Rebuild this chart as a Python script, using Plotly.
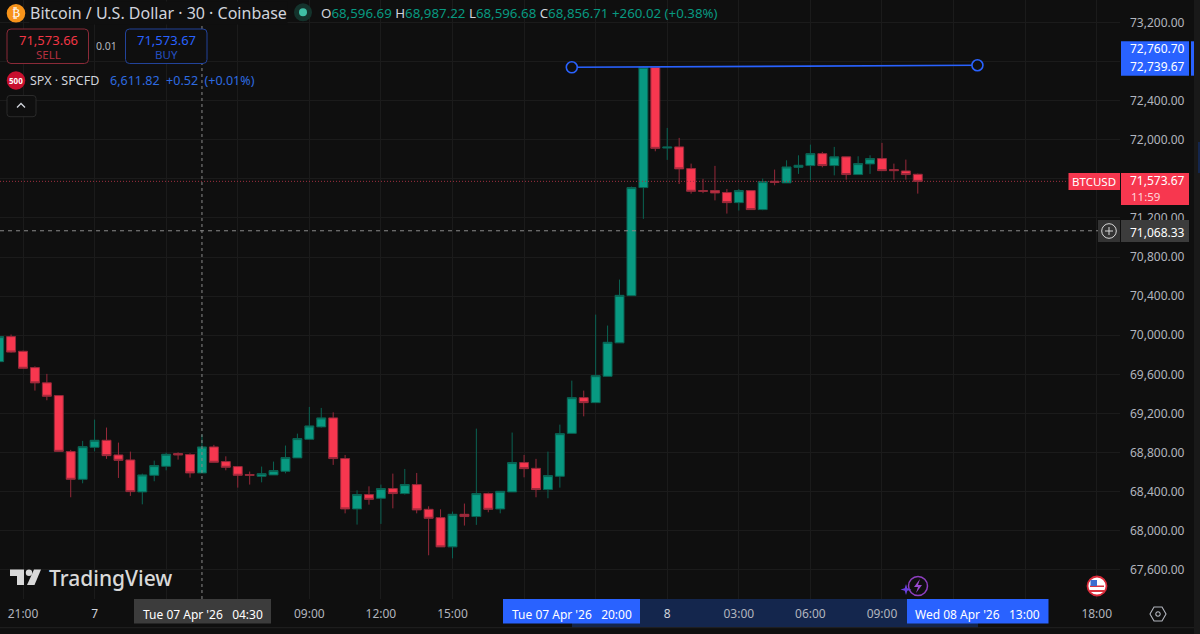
import pandas as pd
import plotly.graph_objects as go

start_time = "2026-04-06 20:00"
opens = [69730,69986,69836,69669,69513,69383,68810,68527,68854,68926,68776,68725,68398,68568,68660,68790,68780,68592,68858,68708,68657,68575,68558,68572,68609,68746,68936,69063,69155,68739,68224,68371,68333,68432,68381,68473,68220,68135,67836,68169,68146,68381,68224,68398,68698,68639,68422,68558,68997,69362,69311,69580,69922,70405,71510,72740,71914,71926,71704,71479,71479,71459,71356,71479,71285,71574,71558,71717,71735,71857,71735,71824,71643,71752,71806,71694,71680,71646]
highs = [70007,70007,69843,69682,69605,69383,68828,68920,69137,69056,68902,68810,68585,68718,68800,68803,68793,68984,68879,68762,68657,68606,68657,68708,68872,68994,69267,69257,69212,68776,68415,68455,68473,68585,68633,68592,68251,68220,68197,68279,69045,68391,68404,69005,68776,68736,68810,69086,69536,69434,70211,70099,70569,71520,72750,72750,72120,72018,71755,71599,71732,71496,71496,71479,71602,71694,71789,71840,71949,71875,71926,71824,71830,71840,71967,71755,71796,71653]
lows = [69730,69822,69662,69434,69335,68813,68343,68486,68813,68736,68541,68357,68271,68507,68619,68728,68544,68592,68701,68619,68442,68473,68496,68572,68588,68746,68936,69056,68674,68179,68064,68268,68071,68230,68371,68179,67750,67836,67719,68054,68061,68190,68179,68398,68547,68343,68333,68442,68997,69171,69311,69580,69922,70405,71190,71881,71793,71547,71448,71453,71379,71244,71275,71285,71278,71533,71558,71650,71584,71717,71635,71591,71643,71650,71683,71591,71591,71448]
closes = [69986,69828,69662,69513,69376,68813,68527,68861,68926,68769,68721,68401,68572,68667,68783,68776,68592,68858,68701,68650,68568,68568,68585,68616,68749,68943,69073,69155,68739,68224,68371,68322,68432,68381,68473,68214,68128,67836,68169,68146,68381,68220,68404,68698,68636,68422,68565,68994,69362,69311,69587,69928,70408,71510,72740,71911,71924,71701,71472,71472,71455,71356,71479,71285,71571,71564,71721,71738,71857,71735,71824,71643,71755,71806,71683,71683,71643,71573.67]

trend_times = ["2026-04-07 20:00", "2026-04-08 13:00"]
trend_prices = [72739.67, 72760.70]
last_price = 71573.67
cross_price = 71068.33
cross_time = "2026-04-07 04:30"
view_times = ["2026-04-06 20:02:10", "2026-04-08 18:58:30"]
view_prices = [67303, 73428]
tick_times = list(pd.date_range("2026-04-06 21:00", periods=16, freq="3h"))
tick_labels = ["21:00", "7", "", "", "09:00", "12:00", "15:00", "", "", "8", "03:00", "06:00", "09:00", "", "", "18:00"]
tick_labels = [f'<span style="color:#d1d4dc">{t}</span>' if t in ("7", "8") else t for t in tick_labels]
price_ticks = [67600, 68000, 68400, 68800, 69200, 69600, 70000, 70400, 70800, 71200, 71600, 72000, 72400, 72800, 73200]
price_labels = ["67,600.00", "68,000.00", "68,400.00", "68,800.00", "69,200.00", "69,600.00", "70,000.00", "70,400.00",
                "70,800.00", "71,200.00", "", "72,000.00", "72,400.00", "", "73,200.00"]

BG = "#0f0f0f"
UP = "#089981"
DOWN = "#f7374f"
BLUE = "#2962ff"
FONT = "Noto Sans"

times = pd.date_range(start_time, periods=len(opens), freq="30min")


def X(v):
    return v / 1200


def Y(v):
    return 1 - v / 634


fig = go.Figure()
fig.add_trace(go.Candlestick(
    x=times, open=opens, high=highs, low=lows, close=closes,
    increasing=dict(line=dict(color="#0a6353", width=1), fillcolor=UP),
    decreasing=dict(line=dict(color="#96293a", width=1), fillcolor=DOWN),
    whiskerwidth=0, showlegend=False))
fig.add_trace(go.Scatter(
    x=trend_times, y=trend_prices, mode="lines+markers", showlegend=False,
    line=dict(color=BLUE, width=1.6),
    marker=dict(symbol="circle", size=11, color=BG, line=dict(color=BLUE, width=1.6))))

shapes = []
annots = []


def box(x0, y0, x1, y1, fill, line=None, lw=1, layer="above"):
    shapes.append(dict(type="rect", xref="paper", yref="paper", x0=X(x0), x1=X(x1), y0=Y(y1), y1=Y(y0),
                       fillcolor=fill, line=dict(color=line or fill, width=lw if line else 0), layer=layer))


def rbox(x0, y0, x1, y1, r, fill, line=None, lw=1):
    p = (f"M {X(x0+r)} {Y(y0)} L {X(x1-r)} {Y(y0)} Q {X(x1)} {Y(y0)} {X(x1)} {Y(y0+r)} "
         f"L {X(x1)} {Y(y1-r)} Q {X(x1)} {Y(y1)} {X(x1-r)} {Y(y1)} L {X(x0+r)} {Y(y1)} "
         f"Q {X(x0)} {Y(y1)} {X(x0)} {Y(y1-r)} L {X(x0)} {Y(y0+r)} Q {X(x0)} {Y(y0)} {X(x0+r)} {Y(y0)} Z")
    shapes.append(dict(type="path", xref="paper", yref="paper", path=p, fillcolor=fill,
                       line=dict(color=line or fill, width=lw if line else 0), layer="above"))


def circ(cx, cy, r, fill, line=None, lw=1):
    shapes.append(dict(type="circle", xref="paper", yref="paper", x0=X(cx-r), x1=X(cx+r), y0=Y(cy+r), y1=Y(cy-r),
                       fillcolor=fill, line=dict(color=line or fill, width=lw if line else 0), layer="above"))


def poly(points, fill=None, line=None, lw=1, close=True):
    p = "M " + " L ".join(f"{X(a)} {Y(b)}" for a, b in points) + (" Z" if close else "")
    shapes.append(dict(type="path", xref="paper", yref="paper", path=p,
                       fillcolor=fill or "rgba(0,0,0,0)", line=dict(color=line or "rgba(0,0,0,0)", width=lw if line else 0),
                       layer="above"))


def text(x, y, s, size=12, color="#d1d4dc", anchor="center", bg=None, family=FONT, weight=None):
    f = dict(family=family, size=size, color=color)
    if weight:
        f["weight"] = weight
    d = dict(xref="paper", yref="paper", x=X(x), y=Y(y), text=s, showarrow=False, xanchor=anchor, yanchor="middle",
             font=f, borderpad=0)
    if bg:
        d["bgcolor"] = bg
    annots.append(d)


# crosshair and last price lines
shapes.append(dict(type="line", xref="x", yref="paper", x0=cross_time, x1=cross_time, y0=Y(599), y1=1,
                   line=dict(color="#8a8a8a", width=1, dash="3px,3px"), layer="above"))
shapes.append(dict(type="line", xref="paper", yref="y", x0=0, x1=X(1098), y0=cross_price, y1=cross_price,
                   line=dict(color="#8a8a8a", width=1, dash="4px,4px"), layer="above"))
shapes.append(dict(type="line", xref="paper", yref="y", x0=0, x1=X(1068), y0=last_price, y1=last_price,
                   line=dict(color="#a03040", width=1, dash="1px,2px"), layer="above"))

# price scale labels
box(1121, 41.3, 1189, 75.7, BLUE)
box(1191, 41.3, 1194, 75.7, BLUE)
text(1157, 49, "72,760.70", 12, "#ffffff")
text(1157, 66, "72,739.67", 12, "#ffffff")
box(1068.5, 173, 1120, 190, DOWN)
text(1094, 181.5, "BTCUSD", 11.5, "#ffffff")
box(1121, 173, 1189, 205, DOWN)
text(1157, 180.5, "71,573.67", 12, "#ffffff")
text(1145, 196, "11:59", 11.5, "#ffd5da")
box(1098, 220, 1120, 242, "#333333")
box(1121, 220, 1189, 242, "#3c3c3c")
circ(1109, 231, 7.3, "rgba(0,0,0,0)", "#d8d8d8", 1)
poly([(1105, 231), (1113, 231)], None, "#d8d8d8", 1, close=False)
poly([(1109, 227), (1109, 235)], None, "#d8d8d8", 1, close=False)
text(1157, 232.5, "71,068.33", 12, "#ffffff")

# right strip
box(1194, 0, 1200, 634, "#191919")
box(1198, 142, 1200, 173, "#14264d")
# time scale
box(572, 599, 978, 627.5, "#14264d", layer="below")
poly([(0, 627.7), (1194, 627.7)], None, "#222222", 1, close=False)
box(134, 599, 271, 623.5, "#3c3c3c")
text(202.5, 614, "Tue 07 Apr '26 &nbsp; 04:30", 12, "#ffffff")
box(503, 599, 640, 623.5, BLUE)
text(571.5, 614, "Tue 07 Apr '26 &nbsp; 20:00", 12, "#ffffff")
box(907, 599, 1048.5, 623.5, BLUE)
text(978, 614, "Wed 08 Apr '26 &nbsp; 13:00", 12, "#ffffff")

# header
circ(16, 13.3, 9.3, "#f7931a")
text(16, 13, "₿", 12, "#ffffff", family="DejaVu Sans")
text(28.5, 13, "Bitcoin / U.S. Dollar · 30 · Coinbase", 16, "#d1d4dc", "left", bg=BG)
circ(303, 12.3, 9, "#14332c")
circ(303, 12.3, 4, "#3fbfa5")
g = UP
ohlc = (f'<span style="color:#d1d4dc">O</span>68,596.69 <span style="color:#d1d4dc">H</span>68,987.22 '
        f'<span style="color:#d1d4dc">L</span>68,596.68 <span style="color:#d1d4dc">C</span>68,856.71 +260.02 (+0.38%)')
text(320, 13, ohlc, 13.3, g, "left")
rbox(7, 29, 88.5, 63.5, 4, BG, "#8a2a38", 1)
text(48, 39.5, "71,573.66", 13, "#f23645")
text(48, 54, "SELL", 11.5, "#b3303f")
text(106, 45.5, "0.01", 10.5, "#b2b5be")
rbox(125.5, 29, 207, 63.5, 4, BG, "#22439a", 1)
text(166, 39.5, "71,573.67", 13, BLUE)
text(166, 54, "BUY", 11.5, "#2450c0")
circ(16, 80.5, 9.3, "#c8102e")
text(16, 81, "<b>500</b>", 8, "#ffffff")
text(29, 80.5, "SPX · SPCFD", 12.5, "#d1d4dc", "left")
text(109, 80.5, "6,611.82 &nbsp;+0.52 &nbsp;(+0.01%)", 12.5, "#2e6be0", "left")
rbox(7, 95.5, 36, 116.7, 3, BG, "#2a2a2a", 1)
poly([(17, 107.5), (21, 103.5), (25, 107.5)], None, "#d1d4dc", 1.3, close=False)

# logo
poly([(10, 569.5), (24, 569.5), (24, 585), (17, 585), (17, 576), (10, 576)], "#d9d9d9")
circ(29, 572.7, 3.2, "#d9d9d9")
poly([(34, 569.5), (41, 569.5), (34.5, 585), (27, 585)], "#d9d9d9")
text(48, 578, "TradingView", 21, "#d9d9d9", "left", weight=500)

# event icons
circ(918, 586, 9.5, "rgba(0,0,0,0)", "#8e3fc0", 1.5)
poly([(920, 579), (914, 587), (918, 587), (916, 593), (922, 585), (918, 585)], "#9a4ad0")
poly([(906, 584), (907.3, 588.2), (911.5, 589.5), (907.3, 590.8), (906, 595), (904.7, 590.8), (900.5, 589.5), (904.7, 588.2)], "#6a3fe0")
circ(1097, 586, 9.5, "#ffffff", "#d92b3a", 1.8)
box(1090, 590, 1104, 592, "#d8343f")
box(1090, 585.5, 1104, 587, "#d8343f")
box(1090.5, 580, 1097, 586, "#3b6ed0")
# settings gear
cx, cy = 1158, 614
poly([(cx-8, cy), (cx-4, cy-7), (cx+4, cy-7), (cx+8, cy), (cx+4, cy+7), (cx-4, cy+7)], None, "#b2b5be", 1.1)
circ(cx, cy, 2.2, "rgba(0,0,0,0)", "#b2b5be", 1.1)

fig.update_layout(
    width=1200, height=634, autosize=False,
    margin=dict(l=0, r=0, t=0, b=0, pad=0),
    paper_bgcolor=BG, plot_bgcolor=BG,
    boxgap=0.25, boxgroupgap=0,
    font=dict(family=FONT, color="#b2b5be", size=12),
    hovermode=False,
    shapes=shapes, annotations=annots,
    xaxis=dict(domain=[0, X(1120)], range=view_times, type="date", rangeslider=dict(visible=False),
               tickmode="array", tickvals=tick_times, ticktext=tick_labels, showgrid=True, gridcolor="#1b1b1b",
               gridwidth=1, ticks="", ticklabelstandoff=6, zeroline=False, showline=False, tickangle=0,
               tickfont=dict(family=FONT, size=12, color="#b2b5be")),
    yaxis=dict(domain=[Y(599), 1], range=view_prices, side="right", anchor="x", tickmode="array",
               tickvals=price_ticks, ticktext=price_labels, showgrid=True, gridcolor="#1b1b1b", gridwidth=1, ticks="",
               ticklabelstandoff=9, zeroline=False, showline=False,
               tickfont=dict(family=FONT, size=12, color="#b2b5be")),
)

fig.write_html("out.html", config={"displayModeBar": False},
               post_script="document.body.style.margin='0';document.body.style.background='#0f0f0f';")
